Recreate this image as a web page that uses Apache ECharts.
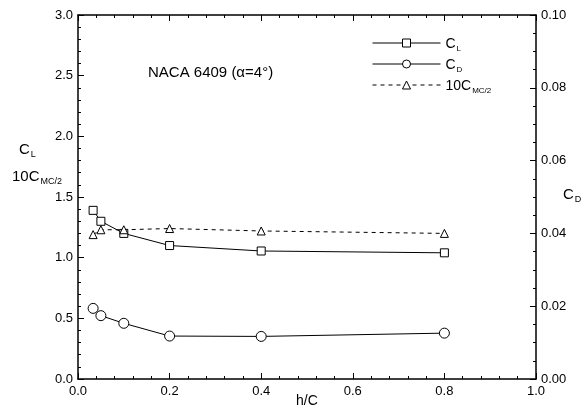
<!DOCTYPE html>
<html>
<head>
<meta charset="utf-8">
<script src="https://cdn.jsdelivr.net/npm/echarts@6/dist/echarts.min.js"></script>
<style>
  html, body { margin: 0; padding: 0; background: #fff; }
  #chart { width: 585px; height: 410px; }
</style>
</head>
<body>
<div id="chart"></div>
<script>
// h/C positions
const hc = [0.033, 0.05, 0.1, 0.2, 0.4, 0.8]
// lift coefficient
const cl = [1.39, 1.30, 1.20, 1.10, 1.055, 1.04]
// drag coefficient (right axis)
const cd = [0.0194, 0.0174, 0.0153, 0.0118, 0.0117, 0.0126]
// 10 x pitching moment about mid chord
const cm = [1.19, 1.23, 1.23, 1.24, 1.22, 1.20]

const font = 'Liberation Sans, Arial, sans-serif'
const ink = '#000'

const pairs = (ys) => hc.map((x, i) => [x, ys[i]])

const subRich = {
  m: { fontSize: 15, color: ink, fontFamily: font, lineHeight: 17, verticalAlign: 'bottom' },
  s: { fontSize: 9, color: ink, fontFamily: font, lineHeight: 12, verticalAlign: 'bottom', padding: [0, 0, -2, 1] }
}
const legRich = {
  m: { fontSize: 14, color: ink, fontFamily: font, lineHeight: 16, verticalAlign: 'bottom' },
  s: { fontSize: 8, color: ink, fontFamily: font, lineHeight: 11, verticalAlign: 'bottom', padding: [0, 0, -2, 1] }
}

const legendNames = {
  'CL': '{m|C}{s|L}',
  'CD': '{m|C}{s|D}',
  '10CMC/2': '{m|10C}{s|MC/2}'
}

const chart = echarts.init(document.getElementById('chart'))

const tickCommon = {
  axisLine: { show: true, onZero: false, lineStyle: { color: ink, width: 1.5 } },
  axisTick: { show: true, inside: true, length: 6, lineStyle: { color: ink, width: 1 } },
  minorTick: { show: true, length: 3, lineStyle: { color: ink, width: 1 } },
  splitLine: { show: false },
  minorSplitLine: { show: false }
}
const labelStyle = { color: ink, fontSize: 13, fontFamily: font }

const option = {
  animation: false,
  backgroundColor: '#fff',
  grid: { left: 78, right: 49, top: 15, bottom: 31, outerBoundsMode: 'none', containLabel: false },
  xAxis: [{
    type: 'value', min: 0, max: 1, interval: 0.2,
    ...tickCommon,
    minorTick: { ...tickCommon.minorTick, splitNumber: 5 },
    axisLabel: { ...labelStyle, formatter: v => v.toFixed(1), margin: 6 }
  }, {
    type: 'value', min: 0, max: 1, interval: 0.2, position: 'top',
    ...tickCommon,
    minorTick: { ...tickCommon.minorTick, splitNumber: 5 },
    axisLabel: { show: false }
  }],
  yAxis: [{
    type: 'value', min: 0, max: 3, interval: 0.5,
    ...tickCommon,
    minorTick: { ...tickCommon.minorTick, splitNumber: 5 },
    axisLabel: { ...labelStyle, formatter: v => v.toFixed(1), margin: 5 }
  }, {
    type: 'value', min: 0, max: 0.1, interval: 0.02, position: 'right',
    ...tickCommon,
    minorTick: { ...tickCommon.minorTick, splitNumber: 4 },
    axisLabel: { ...labelStyle, formatter: v => v.toFixed(2), margin: 5 }
  }],
  legend: {
    orient: 'vertical', left: 372, top: 37, padding: 0,
    itemWidth: 68, itemHeight: 10, itemGap: 5,
    data: ['CL', 'CD', '10CMC/2'],
    formatter: n => legendNames[n],
    lineStyle: { width: 1 },
    itemStyle: { borderWidth: 1 },
    textStyle: { rich: legRich }
  },
  graphic: [
    { type: 'text', left: 148, top: 65, style: { text: 'NACA 6409 (α=4°)', fontSize: 15, fontFamily: font, fill: ink } },
    { type: 'text', left: 19, top: 142, style: { text: '{m|C}{s|L}', rich: subRich } },
    { type: 'text', left: 12, top: 169, style: { text: '{m|10C}{s|MC/2}', rich: subRich } },
    { type: 'text', left: 563, top: 187, style: { text: '{m|C}{s|D}', rich: subRich } },
    { type: 'text', left: 296, top: 394, style: { text: 'h/C', fontSize: 14, fontFamily: font, fill: ink } }
  ],
  series: [{
    name: 'CL', type: 'line', data: pairs(cl),
    symbol: 'rect', symbolSize: 8,
    lineStyle: { color: ink, width: 1 },
    itemStyle: { color: '#fff', borderColor: ink, borderWidth: 1 }
  }, {
    name: 'CD', type: 'line', yAxisIndex: 1, data: pairs(cd),
    symbol: 'circle', symbolSize: 10,
    lineStyle: { color: ink, width: 1 },
    itemStyle: { color: '#fff', borderColor: ink, borderWidth: 1 }
  }, {
    name: '10CMC/2', type: 'line', data: pairs(cm),
    symbol: 'triangle', symbolSize: 8,
    lineStyle: { color: ink, width: 1, type: [4, 4] },
    itemStyle: { color: '#fff', borderColor: ink, borderWidth: 1 }
  }]
}

chart.setOption(option)
</script>
</body>
</html>
